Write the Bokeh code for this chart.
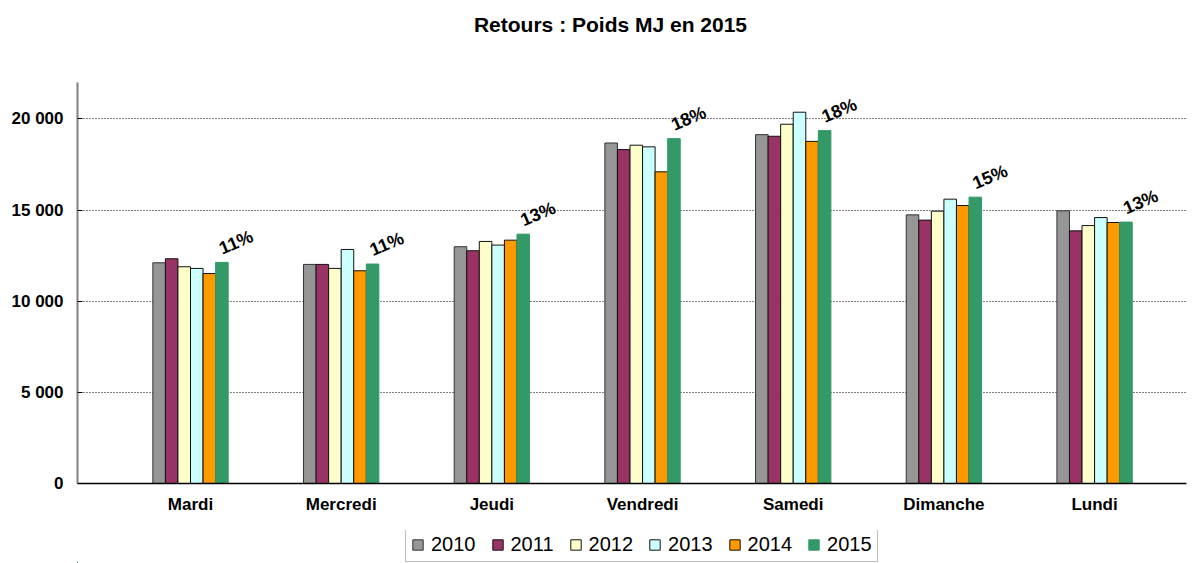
from bokeh.plotting import figure
from bokeh.layouts import column
from bokeh.models import (ColumnDataSource, FixedTicker, Legend, LegendItem)
from bokeh.core.properties import value
from bokeh.embed import file_html
from bokeh.resources import INLINE

days = ["Mardi", "Mercredi", "Jeudi", "Vendredi", "Samedi", "Dimanche", "Lundi"]
years = ["2010", "2011", "2012", "2013", "2014", "2015"]
v2010 = [12110, 12020, 12990, 18680, 19140, 14740, 14960]
v2011 = [12330, 12020, 12770, 18320, 19050, 14450, 13860]
v2012 = [11890, 11800, 13280, 18560, 19710, 14940, 14150]
v2013 = [11800, 12840, 13080, 18470, 20370, 15600, 14590]
v2014 = [11520, 11670, 13350, 17100, 18770, 15250, 14320]
v2015 = [12130, 12040, 13680, 18920, 19360, 15710, 14340]
pct_labels = ["11%", "11%", "13%", "18%", "18%", "15%", "13%"]
y_ticks = [0, 5000, 10000, 15000, 20000]
y_tick_labels = ["0", "5 000", "10 000", "15 000", "20 000"]
title_text = "Retours : Poids MJ en 2015"

series = [v2010, v2011, v2012, v2013, v2014, v2015]
fills = ["#969696", "#993366", "#FFFFCC", "#CCFFFF", "#FF9900", "#339966"]
lines = ["#333333", "#111111", "#111111", "#111111", "#111111", "#339966"]

FONT = "Liberation Sans"
W = 1190
BL, BR = 77, 4


def strip(height):
    f = figure(width=W, height=height, output_backend="svg", toolbar_location=None,
               x_range=(BL, W - BR), y_range=(0, height),
               min_border_left=BL, min_border_right=BR, min_border_top=0, min_border_bottom=0)
    f.outline_line_color = None
    f.axis.visible = False
    f.grid.grid_line_color = None
    return f


# title strip
p0 = strip(50)
p0.text(x=[610], y=[26], text=[title_text], text_align="center", text_baseline="middle",
        text_font=value(FONT), text_font_size="21px", text_font_style="bold", text_color="#000000")

# main chart
p = figure(width=W, height=480, output_backend="svg", toolbar_location=None,
           x_range=(-0.75, 6.61), y_range=(0, 22000),
           min_border_left=BL, min_border_right=BR, min_border_top=32, min_border_bottom=47)
p.outline_line_color = None
p.background_fill_color = "white"

bw = 1.0 / 12
xs = list(range(len(days)))
for i, (yr, vals) in enumerate(zip(years, series)):
    off = (i - 2.5) * bw
    src = ColumnDataSource(dict(x=[x + off for x in xs], top=vals))
    p.vbar(x="x", top="top", width=bw, source=src, fill_color=fills[i],
           line_color=lines[i], line_width=1)

lab_src = ColumnDataSource(dict(x=[x + 2.5 * bw for x in xs], y=v2015, t=pct_labels))
p.text(x="x", y="y", text="t", source=lab_src, angle=0.40, text_align="left",
       text_baseline="bottom", x_offset=2, y_offset=-4,
       text_font=value(FONT), text_font_size="18px", text_font_style="bold", text_color="#000000")

p.xaxis.ticker = FixedTicker(ticks=xs)
p.xaxis.major_label_overrides = {i: d for i, d in enumerate(days)}
p.xaxis.major_tick_line_color = None
p.xaxis.minor_tick_line_color = None
p.xaxis.axis_line_color = "#000000"
p.xaxis.axis_line_width = 1.5
p.xaxis.major_label_text_font = FONT
p.xaxis.major_label_text_font_size = "17px"
p.xaxis.major_label_text_font_style = "bold"
p.xaxis.major_label_text_color = "#000000"
p.xaxis.major_label_standoff = 5

p.yaxis.ticker = FixedTicker(ticks=y_ticks)
p.yaxis.major_label_overrides = {t_: l for t_, l in zip(y_ticks, y_tick_labels)}
p.yaxis.axis_line_color = "#808080"
p.yaxis.axis_line_width = 2
p.yaxis.major_tick_in = 5
p.yaxis.major_tick_out = 0
p.yaxis.major_tick_line_color = "#000000"
p.yaxis.minor_tick_line_color = None
p.yaxis.major_label_text_font = FONT
p.yaxis.major_label_text_font_size = "17px"
p.yaxis.major_label_text_font_style = "bold"
p.yaxis.major_label_text_color = "#000000"
p.yaxis.major_label_standoff = 14

p.xgrid.grid_line_color = None
p.ygrid.grid_line_color = "#000000"
p.ygrid.grid_line_dash = "1 2"
p.ygrid.grid_line_width = 1

# legend strip
p2 = strip(33)
items = []
for i, yr in enumerate(years):
    # swatch renderer placed outside the visible range; only its legend glyph shows
    r = p2.vbar(x=[-100], top=[1], width=1, fill_color=fills[i], line_color=lines[i], line_width=1)
    items.append(LegendItem(label=yr, renderers=[r]))
legend = Legend(items=items, orientation="horizontal", location=(328, 1),
                label_text_font=FONT, label_text_font_size="20px", label_text_color="#000000",
                glyph_width=13, glyph_height=13, label_standoff=7, spacing=15,
                padding=5, margin=0, border_line_color="#808080", border_line_width=1.5,
                label_height=18, background_fill_color="white")
p2.add_layout(legend)

layout = column(p0, p, p2, spacing=0)
open("out.html", "w").write(file_html(layout, INLINE))
